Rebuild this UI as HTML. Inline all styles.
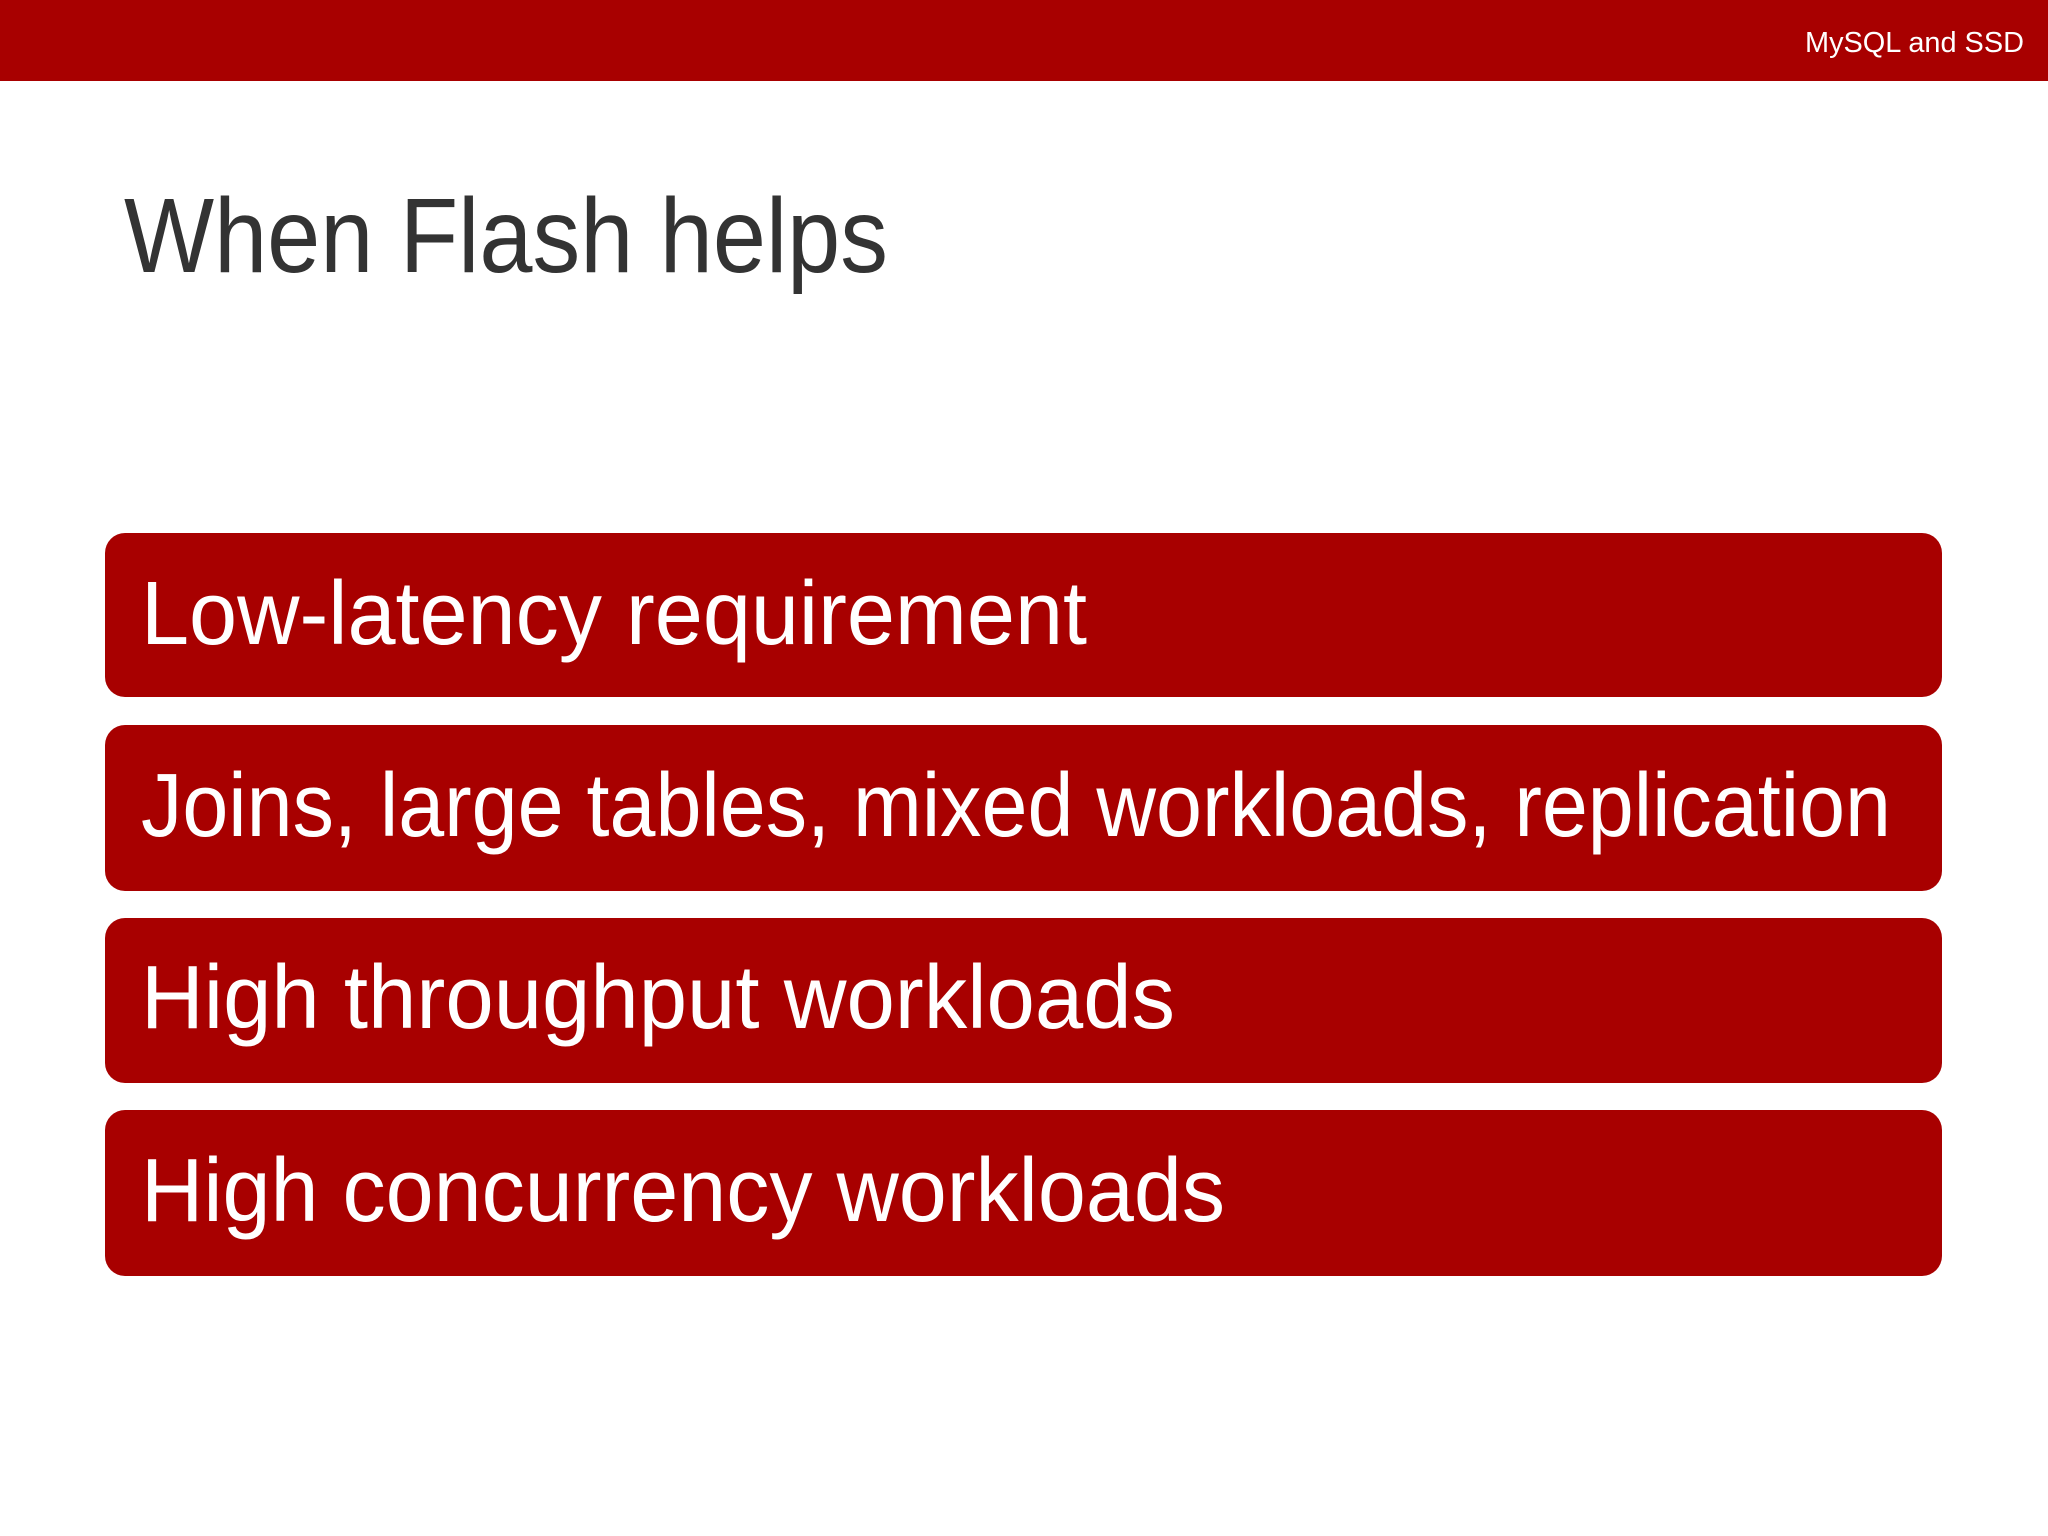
<!DOCTYPE html>
<html><head><meta charset="utf-8"><style>html,body{margin:0;padding:0;background:#fff}svg{display:block}</style></head>
<body>
<svg width="2048" height="1536" viewBox="0 0 2048 1536" xmlns="http://www.w3.org/2000/svg" font-family="'Liberation Sans', sans-serif">
<rect x="0" y="0" width="2048" height="81" fill="#a80000"/>
<text x="2024" y="52" fill="#fff" font-size="29" text-anchor="end" textLength="219" lengthAdjust="spacingAndGlyphs">MySQL and SSD</text>
<text x="124" y="272" fill="#333" font-size="106" textLength="764" lengthAdjust="spacingAndGlyphs">When Flash helps</text>
<g fill="#a80000">
<rect x="105" y="533" width="1837" height="164" rx="20"/>
<rect x="105" y="725" width="1837" height="166" rx="20"/>
<rect x="105" y="918" width="1837" height="165" rx="20"/>
<rect x="105" y="1110" width="1837" height="166" rx="20"/>
</g>
<g fill="#fff" font-size="90">
<text x="141" y="644" textLength="946" lengthAdjust="spacingAndGlyphs">Low-latency requirement</text>
<text x="141" y="836" textLength="1750" lengthAdjust="spacingAndGlyphs">Joins, large tables, mixed workloads, replication</text>
<text x="141" y="1028" textLength="1034" lengthAdjust="spacingAndGlyphs">High throughput workloads</text>
<text x="141" y="1221" textLength="1084" lengthAdjust="spacingAndGlyphs">High concurrency workloads</text>
</g>
</svg>
</body></html>
